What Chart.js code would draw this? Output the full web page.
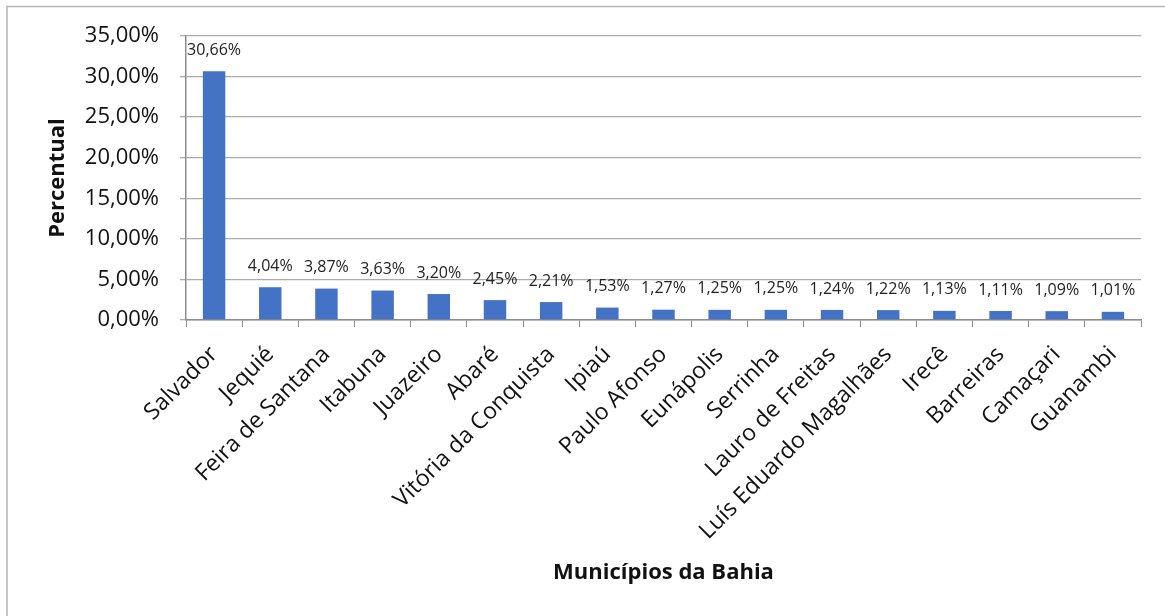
<!DOCTYPE html>
<html>
<head>
<meta charset="utf-8">
<script src="https://cdn.jsdelivr.net/npm/chart.js@4"></script>
<style>
  html, body { margin: 0; padding: 0; background: #fff; }
  #wrap { width: 1165px; height: 616px; position: relative; }
</style>
</head>
<body>
<div id="wrap"><canvas id="chart" width="1165" height="616"></canvas></div>
<script>
// municipios e percentuais
const municipios = ['Salvador', 'Jequié', 'Feira de Santana', 'Itabuna', 'Juazeiro', 'Abaré',
  'Vitória da Conquista', 'Ipiaú', 'Paulo Afonso', 'Eunápolis', 'Serrinha', 'Lauro de Freitas',
  'Luís Eduardo Magalhães', 'Irecê', 'Barreiras', 'Camaçari', 'Guanambi'];
const percentuais = [30.66, 4.04, 3.87, 3.63, 3.20, 2.45, 2.21, 1.53, 1.27, 1.25, 1.25, 1.24,
  1.22, 1.13, 1.11, 1.09, 1.01];
const yTicks = [0, 5, 10, 15, 20, 25, 30, 35];

const fonte = '"Open Sans", "Noto Sans", sans-serif';
const pct = (v) => v.toFixed(2).replace('.', ',') + '%';

// rotulos de dados em cima das barras
const rotulos = {
  id: 'rotulos',
  afterDatasetsDraw(chart) {
    const ctx = chart.ctx;
    const meta = chart.getDatasetMeta(0);
    ctx.save();
    ctx.font = '16px ' + fonte;
    ctx.fillStyle = '#222';
    ctx.textAlign = 'center';
    ctx.textBaseline = 'middle';
    meta.data.forEach((bar, i) => {
      ctx.fillText(pct(percentuais[i]), bar.x, bar.y - 21);
    });
    ctx.restore();
  }
};

// moldura (so topo e esquerda aparecem no recorte)
const moldura = {
  id: 'moldura',
  beforeDraw(chart) {
    const ctx = chart.ctx;
    ctx.save();
    ctx.strokeStyle = '#b4b4b4';
    ctx.lineWidth = 1.5;
    ctx.beginPath();
    ctx.moveTo(7, 616);
    ctx.lineTo(7, 6.5);
    ctx.lineTo(1165, 6.5);
    ctx.stroke();
    ctx.restore();
  }
};

new Chart(document.getElementById('chart'), {
  type: 'bar',
  data: {
    labels: municipios,
    datasets: [{
      data: percentuais,
      backgroundColor: '#4472C4',
      borderWidth: 0,
      barPercentage: 0.4,
      categoryPercentage: 1.0
    }]
  },
  options: {
    responsive: false,
    animation: false,
    layout: { padding: { left: 0, top: 36, right: 24, bottom: 0 } },
    plugins: { legend: { display: false }, tooltip: { enabled: false } },
    scales: {
      x: {
        afterFit(scale) { scale.height = 296; },
        grid: { drawOnChartArea: false, drawTicks: true, tickLength: 7, color: '#8c8c8c', offset: true },
        border: { display: true, color: '#8c8c8c', width: 1.5 },
        ticks: {
          minRotation: 45, maxRotation: 45, autoSkip: false, padding: 14,
          color: '#111', font: { family: fonte, size: 23 }
        },
        title: {
          display: true, text: 'Municípios da Bahia', color: '#111',
          font: { family: fonte, size: 22, weight: 'bold' }, padding: { top: 0, bottom: 30 }
        }
      },
      y: {
        min: 0, max: 35,
        afterFit(scale) { scale.width = 186; },
        afterBuildTicks(scale) { scale.ticks = yTicks.map(v => ({ value: v })); },
        grid: { color: '#ababab', lineWidth: 1.3, tickLength: 6, drawTicks: true },
        border: { display: true, color: '#8c8c8c', width: 1.5 },
        ticks: {
          padding: 21, color: '#111', font: { family: fonte, size: 22 },
          callback: (v) => pct(v)
        },
        title: {
          display: true, text: 'Percentual', color: '#111',
          font: { family: fonte, size: 22, weight: 'bold' }, padding: { top: 45 }
        }
      }
    }
  },
  plugins: [rotulos, moldura]
});
</script>
</body>
</html>
